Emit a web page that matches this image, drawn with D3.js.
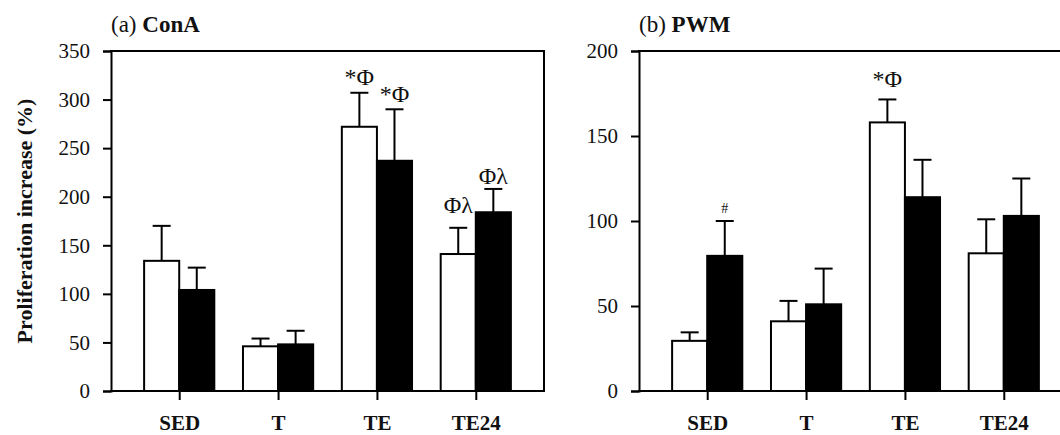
<!DOCTYPE html>
<html>
<head>
<meta charset="utf-8">
<script src="https://cdn.jsdelivr.net/npm/d3@7"></script>
<style>
    body { margin: 0; background: #fff; }
    svg { display: block; }
    text { font-family: "Liberation Serif", "DejaVu Serif", serif; fill: #111; }
</style>
</head>
<body>
<div id="chart"></div>
<script>
// groups on the x axis
const categories = ["SED", "T", "TE", "TE24"];

// (a) ConA - open bars / filled bars, mean and upper error
const conaOpen = [134, 46, 272, 141];
const conaOpenErr = [36, 8, 35, 27];
const conaFilled = [104, 48, 237, 184];
const conaFilledErr = [23, 14, 53, 24];
const conaTicks = [0, 50, 100, 150, 200, 250, 300, 350];

// (b) PWM
const pwmOpen = [29.5, 41, 158, 81];
const pwmOpenErr = [5, 12, 13.5, 20];
const pwmFilled = [79.5, 51, 114, 103];
const pwmFilledErr = [20.5, 21, 22, 22];
const pwmTicks = [0, 50, 100, 150, 200];

// significance marks: group, bar (0 open, 1 filled), text, baseline value
const conaNotes = [
    { cat: "TE", bar: 0, text: "*Φ", at: 315 },
    { cat: "TE", bar: 1, text: "*Φ", at: 298 },
    { cat: "TE24", bar: 0, text: "Φλ", at: 183 },
    { cat: "TE24", bar: 1, text: "Φλ", at: 213 }
];
const pwmNotes = [
    { cat: "SED", bar: 1, text: "#", at: 105, small: true },
    { cat: "TE", bar: 0, text: "*Φ", at: 179 }
];

const width = 1060;
const height = 435;

const svg = d3.select("#chart")
    .append("svg")
    .attr("width", width)
    .attr("height", height);

// both panels share the same box size
const panelW = 433;
const panelH = 340;
const panelTop = 51;

DrawPanel(svg, 111, "(a) ", "ConA", conaTicks, conaOpen, conaOpenErr, conaFilled, conaFilledErr, conaNotes);
DrawPanel(svg, 639, "(b) ", "PWM", pwmTicks, pwmOpen, pwmOpenErr, pwmFilled, pwmFilledErr, pwmNotes);

// y axis title, only on the left panel
svg.append("text")
    .attr("transform", `translate(32, ${panelTop + panelH / 2}) rotate(-90)`)
    .attr("text-anchor", "middle")
    .style("font-size", "22px")
    .style("font-weight", "bold")
    .text("Proliferation increase (%)");


function DrawPanel(svg, left, tag, name, ticks, open, openErr, filled, filledErr, notes)
/* one boxed bar chart with its axes, error bars and marks */ {
    const g = svg.append("g")
        .attr("transform", `translate(${left}, ${panelTop})`);

    const x = d3.scalePoint()
        .domain(categories)
        .range([0, panelW])
        .padding(0.69);

    const y = d3.scaleLinear()
        .domain([0, d3.max(ticks)])
        .range([panelH, 0]);

    const barW = x.step() * 0.355;

    // title
    const title = g.append("text")
        .attr("x", 0)
        .attr("y", -19)
        .style("font-size", "23px");
    title.append("tspan").text(tag);
    title.append("tspan").style("font-weight", "bold").text(name);

    // bars: open one left of the tick, filled one right of it
    const series = [
        { vals: open, err: openErr, fill: "#fff", shift: -1 },
        { vals: filled, err: filledErr, fill: "#000", shift: 0 }
    ];

    series.forEach((s, si) => {
        const rows = categories.map((c, i) => ({ cat: c, v: s.vals[i], e: s.err[i] }));
        const cx = d => x(d.cat) + s.shift * barW + barW / 2;

        // error bars first so the bar outline sits on top
        g.selectAll(".err" + si)
            .data(rows)
            .join("line")
            .attr("class", "err" + si)
            .attr("x1", cx)
            .attr("x2", cx)
            .attr("y1", d => y(d.v))
            .attr("y2", d => y(d.v + d.e))
            .attr("stroke", "#000")
            .attr("stroke-width", 2);

        g.selectAll(".cap" + si)
            .data(rows)
            .join("line")
            .attr("class", "cap" + si)
            .attr("x1", d => cx(d) - 9)
            .attr("x2", d => cx(d) + 9)
            .attr("y1", d => y(d.v + d.e))
            .attr("y2", d => y(d.v + d.e))
            .attr("stroke", "#000")
            .attr("stroke-width", 2);

        g.selectAll(".bar" + si)
            .data(rows)
            .join("rect")
            .attr("class", "bar" + si)
            .attr("x", d => x(d.cat) + s.shift * barW)
            .attr("y", d => y(d.v))
            .attr("width", barW)
            .attr("height", d => y(0) - y(d.v))
            .attr("fill", s.fill)
            .attr("stroke", "#000")
            .attr("stroke-width", 2);
    });

    // significance marks
    g.selectAll(".note")
        .data(notes)
        .join("text")
        .attr("class", "note")
        .attr("x", d => x(d.cat) + (d.bar == 0 ? -barW / 2 : barW / 2))
        .attr("y", d => y(d.at))
        .attr("text-anchor", "middle")
        .style("font-size", d => d.small ? "14px" : "24px")
        .text(d => d.text);

    // left axis, outer ticks give the little stubs at top and bottom
    const yAxis = g.append("g")
        .call(d3.axisLeft(y).tickValues(ticks).tickSize(8).tickSizeOuter(8).tickPadding(13));
    yAxis.selectAll("path, line").attr("stroke", "#000").attr("stroke-width", 2);
    yAxis.selectAll("text").style("font-size", "21px").attr("fill", "#111");

    // bottom axis with group ticks pointing down
    const xAxis = g.append("g")
        .attr("transform", `translate(0, ${panelH})`)
        .call(d3.axisBottom(x).tickSize(9).tickSizeOuter(0).tickPadding(15));
    xAxis.select(".domain").remove();
    xAxis.selectAll("line").attr("stroke", "#000").attr("stroke-width", 2);
    xAxis.selectAll("text")
        .style("font-size", "21px")
        .style("font-weight", "bold")
        .attr("fill", "#111");

    // frame: top, right and bottom
    const frame = [
        [[0, 0], [panelW, 0]],
        [[panelW, 0], [panelW, panelH]],
        [[0, panelH], [panelW, panelH]]
    ];
    g.selectAll(".frame")
        .data(frame)
        .join("path")
        .attr("class", "frame")
        .attr("d", d => d3.line()(d))
        .attr("fill", "none")
        .attr("stroke", "#000")
        .attr("stroke-width", 2)
        .attr("stroke-linecap", "square");

    return g;
}
</script>
</body>
</html>
